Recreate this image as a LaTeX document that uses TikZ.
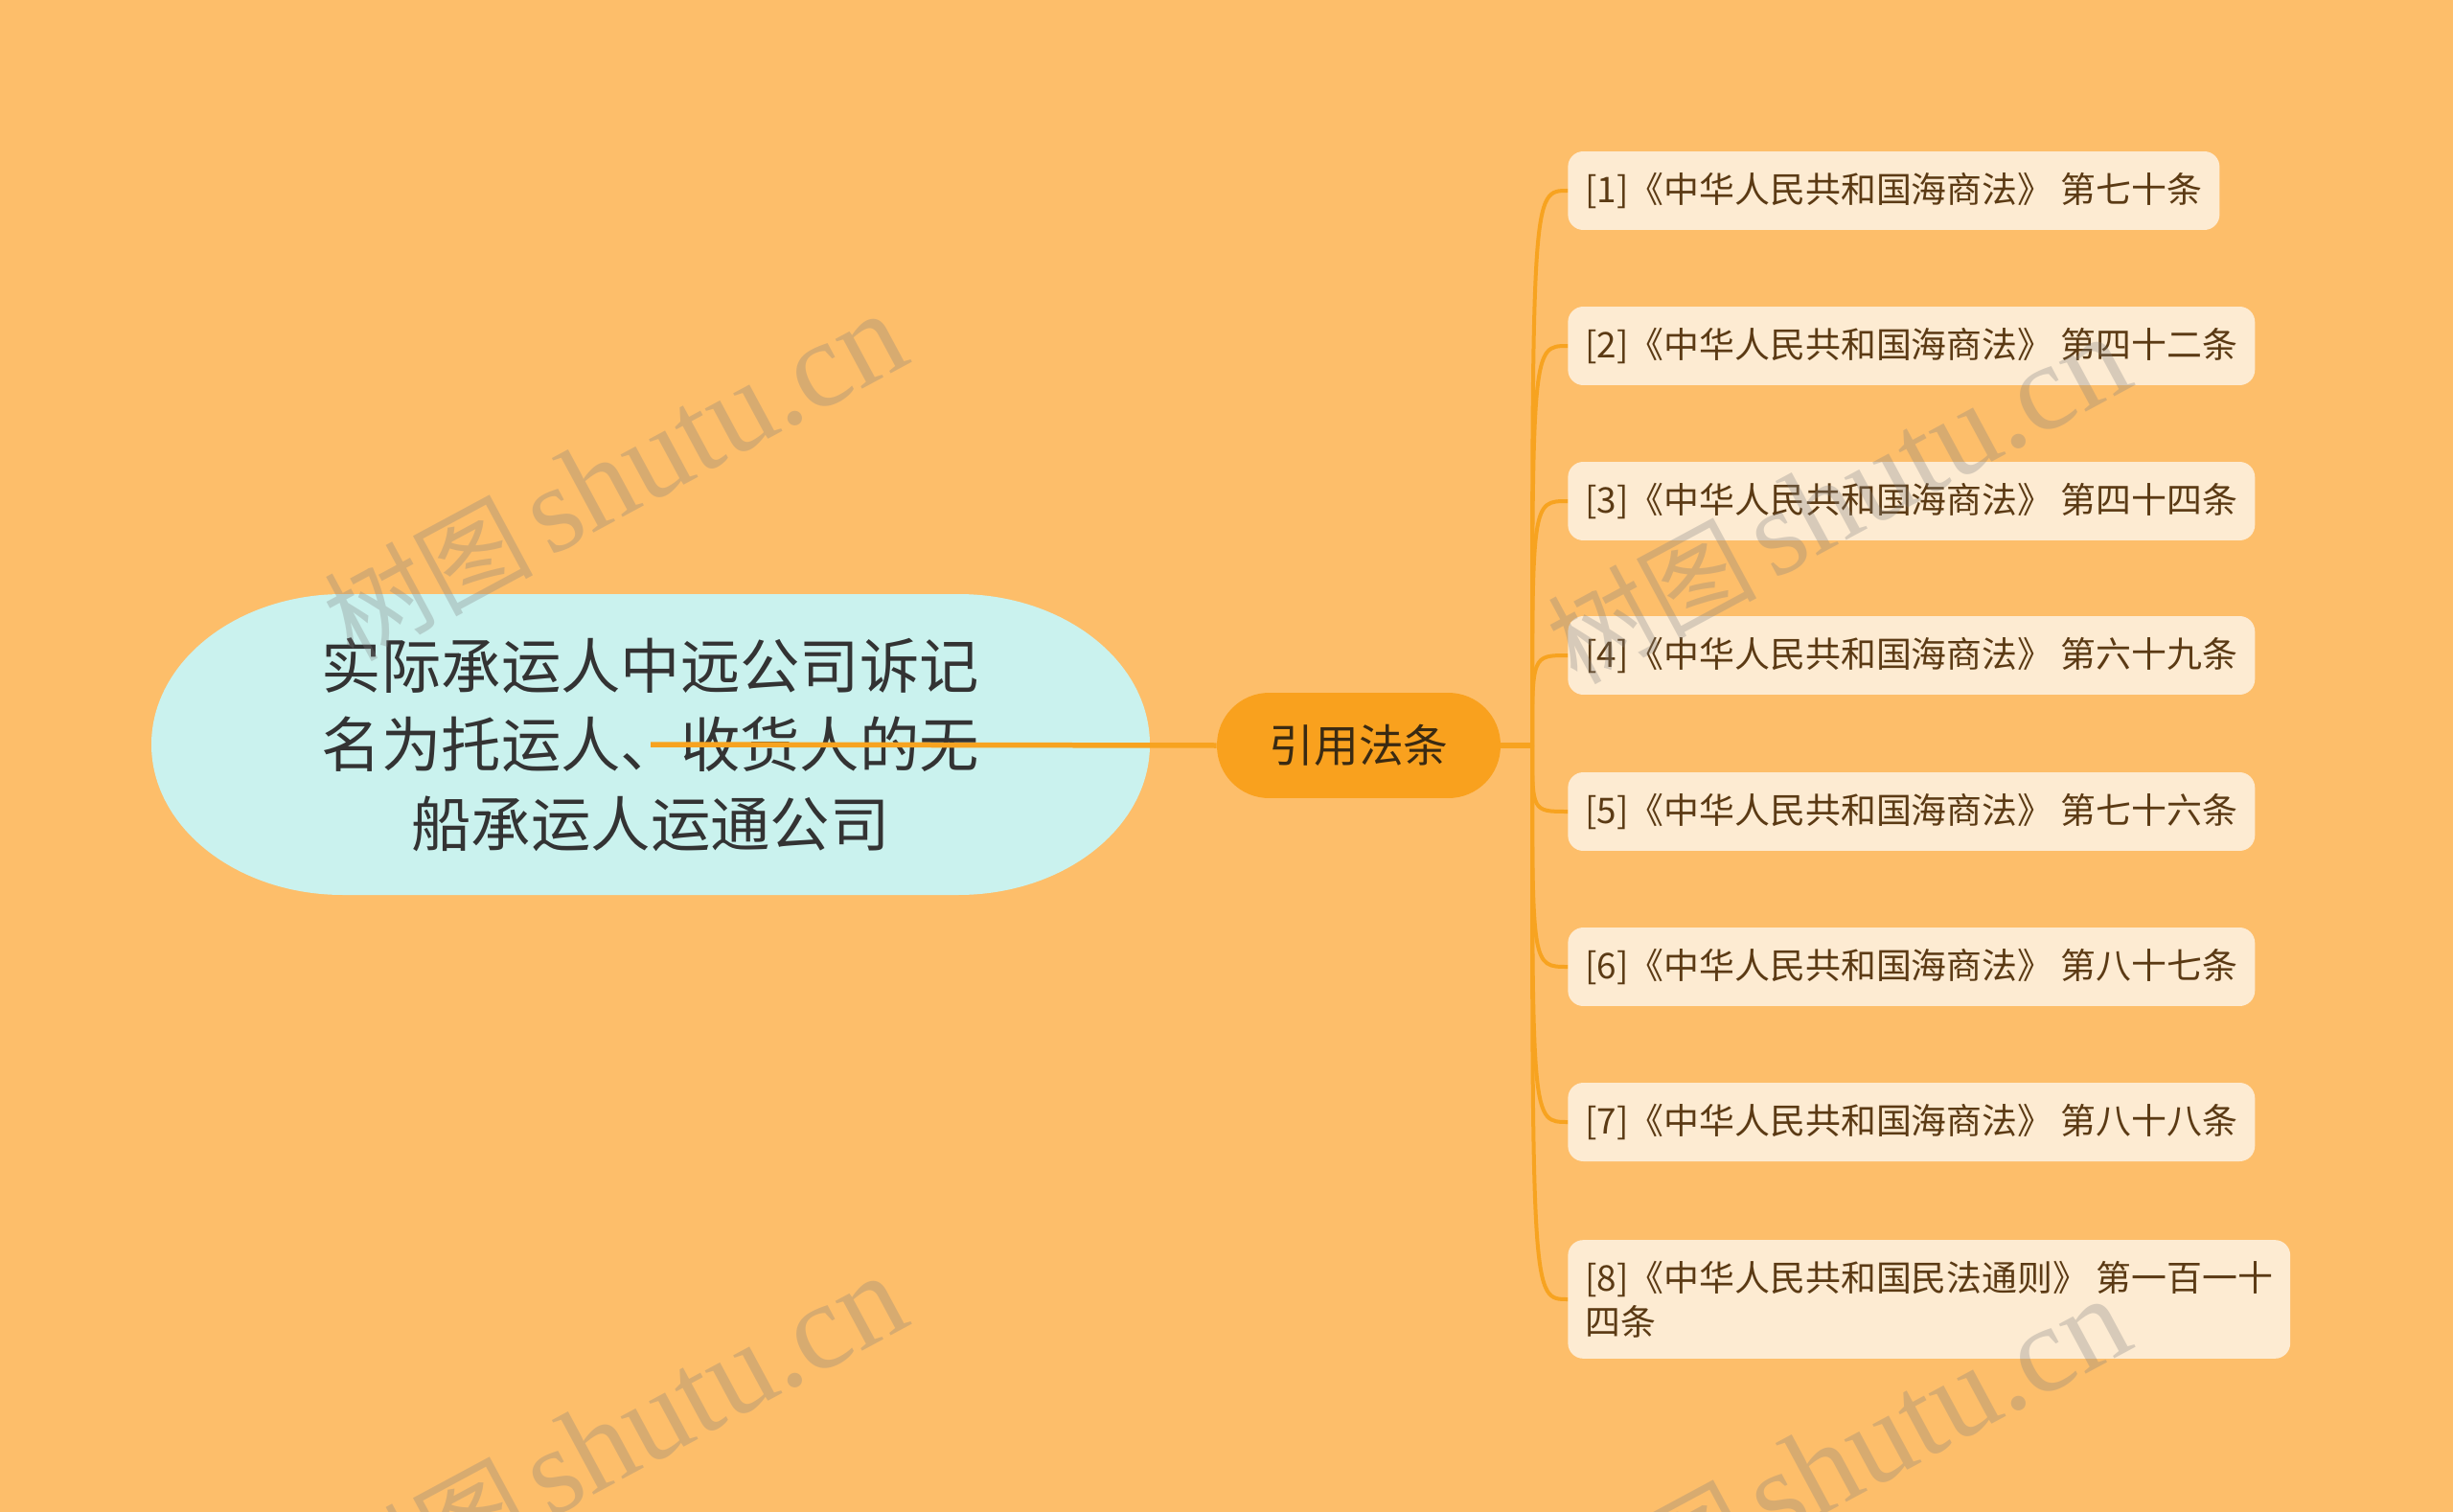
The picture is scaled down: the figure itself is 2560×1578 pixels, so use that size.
\documentclass[tikz,border=0pt]{standalone}
\usepackage{fontspec}
\setmainfont{Liberation Serif}
\newfontfamily\cjk{Noto Sans CJK SC}
\usetikzlibrary{calc}
\definecolor{bgorange}{HTML}{FDBE6A}
\definecolor{rootblue}{HTML}{CAF2EE}
\definecolor{citeorange}{HTML}{F9A11E}
\definecolor{leafcream}{HTML}{FDEBD2}
\definecolor{linkorange}{HTML}{F7A320}
\definecolor{roottext}{HTML}{333333}
\definecolor{citetext}{HTML}{3A2A12}
\definecolor{leaftext}{HTML}{5B3A14}
\def\wmtext{{\cjk\fontsize{62}{62}\selectfont 树图}\hspace{9pt}{\fontsize{73}{73}\selectfont shutu.cn}}

\begin{document}
\begin{tikzpicture}[x=0.02cm, y=-0.02cm,
	rootlabel/.style={align=center, text=roottext, font={\cjk\fontsize{35.5}{47}\selectfont}},
	citebox/.style={fill=citeorange, text=citetext, rounded corners=1.09cm, minimum width=5.92cm, minimum height=2.2cm, font={\cjk\fontsize{26.6}{30}\selectfont}},
	leafbox/.style={anchor=west, fill=leafcream, text=leaftext, rounded corners=0.32cm, align=left, minimum height=1.64cm, inner xsep=0.36cm, inner ysep=0.44cm, font={\cjk\fontsize{21}{26}\selectfont}},
	trunk/.style={draw=linkorange, line width=0.11cm},
	twig/.style={draw=linkorange, line width=0.08cm},
	wmark/.style={anchor=base west, rotate=28.3, text=gray, opacity=0.3, inner sep=0pt}]
	%%%%% START %%%%%
	
	\fill[bgorange] (0,0) rectangle (2560,1578);
	\useasboundingbox (0,0) rectangle (2560,1578);
	\clip (0,0) rectangle (2560,1578);
	
	\fill[rootblue] (358,620) -- (1000,620) .. controls (1110.4,620) and (1200,690.3) .. (1200,777)
		.. controls (1200,863.7) and (1110.4,934) .. (1000,934) -- (358,934)
		.. controls (247.6,934) and (158,863.7) .. (158,777)
		.. controls (158,690.3) and (247.6,620) .. (358,620) -- cycle;
	\node[rootlabel] (root) at (679,777) {实际承运人中远公司诉记\\名为托运人、收货人的无\\船承运人运通公司};
	
	\node[citebox] (cite) at (1418,778) {引用法条};
	\coordinate (hub) at (1599,778);
	
	\node[leafbox] (l1) at (1636,199) {[1]《中华人民共和国海商法》 第七十条};
	\node[leafbox] (l2) at (1636,361) {[2]《中华人民共和国海商法》 第四十二条};
	\node[leafbox] (l3) at (1636,523) {[3]《中华人民共和国海商法》 第四十四条};
	\node[leafbox] (l4) at (1636,684) {[4]《中华人民共和国海商法》 第六十九条};
	\node[leafbox] (l5) at (1636,847) {[5]《中华人民共和国海商法》 第七十六条};
	\node[leafbox] (l6) at (1636,1009) {[6]《中华人民共和国海商法》 第八十七条};
	\node[leafbox] (l7) at (1636,1171) {[7]《中华人民共和国海商法》 第八十八条};
	\node[leafbox] (l8) at (1636,1356) {[8]《中华人民共和国民法通则》 第一百一十\\四条};
	
	\draw[trunk] (root.center) -- (cite.west);
	\draw[trunk] (cite.east) -- (hub);
	\draw[twig] (hub) .. controls (hub |- l1.west) .. (l1.west);
	\draw[twig] (hub) .. controls (hub |- l2.west) .. (l2.west);
	\draw[twig] (hub) .. controls (hub |- l3.west) .. (l3.west);
	\draw[twig] (hub) .. controls (hub |- l4.west) .. (l4.west);
	\draw[twig] (hub) .. controls (hub |- l5.west) .. (l5.west);
	\draw[twig] (hub) .. controls (hub |- l6.west) .. (l6.west);
	\draw[twig] (hub) .. controls (hub |- l7.west) .. (l7.west);
	\draw[twig] (hub) .. controls (hub |- l8.west) .. (l8.west);
	
	\node[wmark] (wm1) at (368,692) {\wmtext};
	\node[wmark] (wm2) at (1645,716) {\wmtext};
	\node[wmark] (wm3) at (368,1696) {\wmtext};
	\node[wmark] (wm4) at (1645,1720) {\wmtext};
	
	%%%%% END %%%%%
\end{tikzpicture}
\end{document}
